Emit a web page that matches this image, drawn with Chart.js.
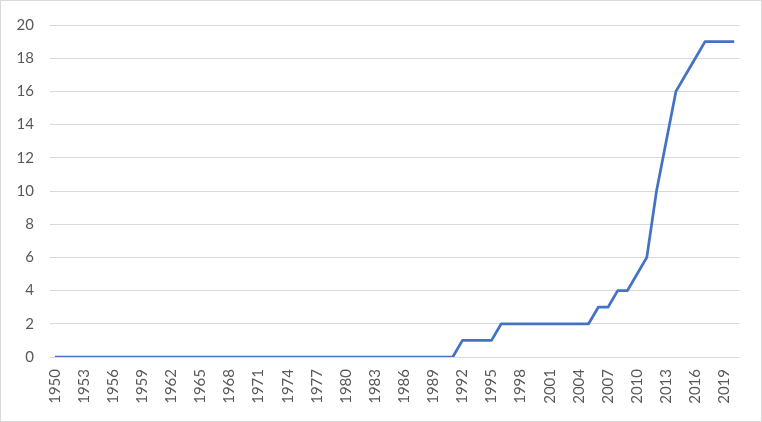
<!DOCTYPE html>
<html>
<head>
<meta charset="utf-8">
<script src="https://cdn.jsdelivr.net/npm/chart.js@4.4.1/dist/chart.umd.min.js"></script>
<style>
  html, body { margin: 0; padding: 0; background: #fff; }
  #wrap { width: 762px; height: 422px; position: relative; }
</style>
</head>
<body>
<div id="wrap"><canvas id="chart-jumlah" width="762" height="422"></canvas></div>
<script>
// tahun (categories)
const tahun = [
    "1950", "1951", "1952", "1953", "1954", "1955", "1956", "1957", "1958", "1959",
    "1960", "1961", "1962", "1963", "1964", "1965", "1966", "1967", "1968", "1969",
    "1970", "1971", "1972", "1973", "1974", "1975", "1976", "1977", "1978", "1979",
    "1980", "1981", "1982", "1983", "1984", "1985", "1986", "1987", "1988", "1989",
    "1990", "1991", "1992", "1993", "1994", "1995", "1996", "1997", "1998", "1999",
    "2000", "2001", "2002", "2003", "2004", "2005", "2006", "2007", "2008", "2009",
    "2010", "2011", "2012", "2013", "2014", "2015", "2016", "2017", "2018", "2019",
    "2020"
];

// nilai per tahun
const jumlah = [
    0, 0, 0, 0, 0, 0, 0, 0, 0, 0,
    0, 0, 0, 0, 0, 0, 0, 0, 0, 0,
    0, 0, 0, 0, 0, 0, 0, 0, 0, 0,
    0, 0, 0, 0, 0, 0, 0, 0, 0, 0,
    0, 0, 1, 1, 1, 1, 2, 2, 2, 2,
    2, 2, 2, 2, 2, 2, 3, 3, 4, 4,
    5, 6, 10, 13, 16, 17, 18, 19, 19, 19,
    19
];

const y_ticks = [0, 2, 4, 6, 8, 10, 12, 14, 16, 18, 20];

const warna_teks = "#595959";
const warna_grid = "#d9d9d9";

const bingkai = {
    id: 'bingkai',
    beforeDraw(chart) {
        const c = chart.ctx;
        c.save();
        c.fillStyle = "#ffffff";
        c.fillRect(0, 0, chart.width, chart.height);
        c.restore();
    },
    afterDraw(chart) {
        const c = chart.ctx;
        c.save();
        c.strokeStyle = warna_grid;
        c.lineWidth = 1;
        c.strokeRect(0.5, 0.5, chart.width - 1, chart.height - 1);
        c.restore();
    }
};

const chart_jumlah = new Chart(document.getElementById('chart-jumlah'), {
    type: 'line',
    data: {
        labels: tahun,
        datasets: [{
            label: "Jumlah",
            data: jumlah,
            borderColor: "#4472C4",
            backgroundColor: "#4472C4",
            borderWidth: 2.75,
            pointRadius: 0,
            tension: 0,
            borderJoinStyle: 'round',
        }],
    },
    options: {
        responsive: false,
        animation: false,
        layout: { padding: { top: 23, right: 23, bottom: 0, left: 0 } },
        plugins: {
            legend: { display: false },
            tooltip: { enabled: false },
        },
        scales: {
            x: {
                offset: true,
                grid: { display: false, drawTicks: false },
                border: { display: false },
                afterFit(scale) { scale.height = 65; },
                ticks: {
                    autoSkip: false,
                    maxRotation: 90,
                    minRotation: 90,
                    padding: 12,
                    color: warna_teks,
                    font: { family: "Lato", size: 15 },
                    callback: function(value, index) {
                        return index % 3 === 0 ? tahun[index] : null;
                    },
                },
            },
            y: {
                min: 0,
                max: 20,
                afterFit(scale) { scale.width = 50; },
                afterBuildTicks(scale) {
                    scale.ticks = y_ticks.map(v => ({ value: v }));
                },
                grid: { color: warna_grid, lineWidth: 1, drawTicks: false },
                border: { display: false },
                ticks: {
                    padding: 16,
                    color: warna_teks,
                    font: { family: "Lato", size: 15 },
                },
            },
        },
    },
    plugins: [bingkai],
});
</script>
</body>
</html>
